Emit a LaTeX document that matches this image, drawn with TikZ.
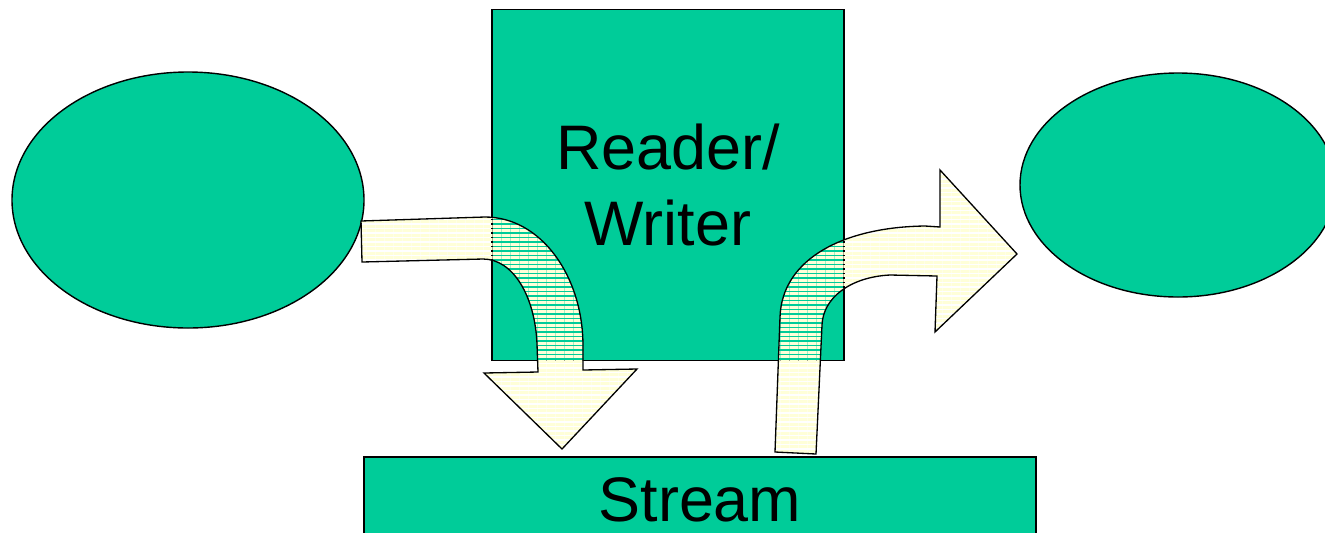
\documentclass[tikz,border=0pt]{standalone}
\usepackage{fontspec}
\setmainfont{Liberation Sans}
\usetikzlibrary{shapes.geometric,patterns.meta}
\definecolor{boxgreen}{HTML}{00CC99}
\definecolor{paleyellow}{HTML}{FFFFD8}
\tikzset{
  blob/.style={ellipse, draw=black, line width=0.8pt, fill=boxgreen, inner sep=0pt},
  panel/.style={rectangle, draw=black, line width=1.1pt, fill=boxgreen, inner sep=0pt},
  flow/.style={draw=black, line width=0.75pt, line join=miter,
    pattern={Lines[angle=0, distance=2.56pt, line width=1.75pt]},
    pattern color=paleyellow},
  caption/.style={font=\fontsize{35.8}{43.8}\selectfont, align=center, text=black}
}
\begin{document}
\begin{tikzpicture}[x=0.02cm, y=-0.02cm]
  \useasboundingbox (0,0) rectangle (1325,532);
  \clip (0,0) rectangle (1325,532);

  % source and sink
  \node[blob, minimum width=352*0.02cm, minimum height=256*0.02cm] (src) at (188,200) {};
  \node[blob, minimum width=316*0.02cm, minimum height=224*0.02cm] (dst) at (1178,185) {};

  % reader/writer and stream
  \node[panel, minimum width=352*0.02cm, minimum height=351*0.02cm, caption] (rw) at (668,185) {Reader/\\Writer};
  \node[panel, minimum width=672*0.02cm, minimum height=150*0.02cm] (stream) at (700,532) {};
  \node[caption, anchor=base] (streamlabel) at ([yshift=-1.3cm]stream.north) {Stream};

  % data flowing from the source through the reader/writer into the stream
  \draw[flow] (361,221) -- (485,217)
    .. controls (541,217) and (583,276) .. (583,346)
    -- (583,370) -- (637,369) -- (562,449) -- (484,373) -- (538,372) -- (537,344)
    .. controls (535,296) and (513,259) .. (483,259)
    -- (362,262) -- cycle;

  % data flowing from the stream through the reader/writer to the sink
  \draw[flow] (775,452) -- (780,317)
    .. controls (782,258) and (845,227) .. (925,226)
    -- (940,227) -- (940,170) -- (1017,254) -- (935,332) -- (937,276)
    -- (890,275) .. controls (850,277) and (823,298) .. (822,325)
    -- (816,454) -- cycle;
\end{tikzpicture}
\end{document}
